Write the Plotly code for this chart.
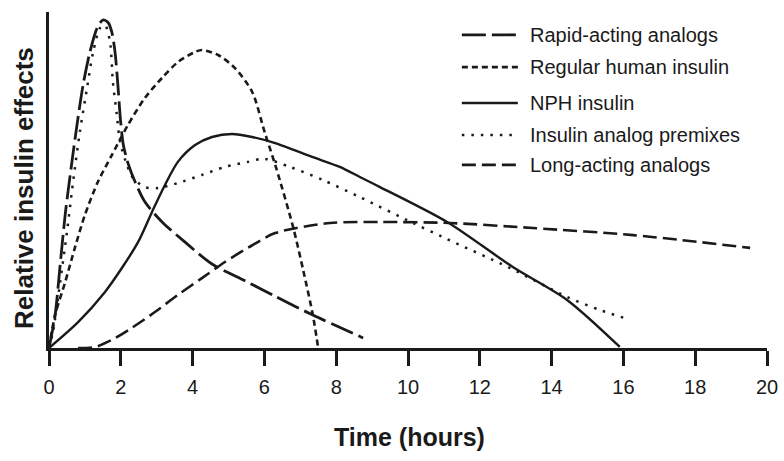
import plotly.graph_objects as go

# ---------------- data ----------------
series_names = [
    "Rapid-acting analogs",
    "Regular human insulin",
    "NPH insulin",
    "Insulin analog premixes",
    "Long-acting analogs",
]

rapid_t = [0, 0.17, 0.31, 0.45, 0.59, 0.78, 0.95, 1.14, 1.34, 1.50, 1.65, 1.75, 1.84, 1.92,
           1.99, 2.07, 2.20, 2.40, 2.67, 3.15, 3.79, 4.54, 5.46, 6.30, 7.35, 8.75]
rapid_y = [0, 9.8, 24.7, 39.6, 51.5, 66.4, 78.3, 88.1, 95.2, 97.6, 96.8, 94.0, 88.0, 78.0,
           68.0, 60.5, 55.0, 49.4, 43.5, 37.5, 31.5, 25.0, 20.0, 15.4, 9.8, 3.0]

regular_t = [0, 0.17, 0.45, 0.72, 1.00, 1.36, 1.75, 2.20, 2.67, 3.15, 3.59, 4.07, 4.26, 4.71,
             5.18, 5.66, 6.00, 6.33, 6.80, 7.08, 7.35, 7.49]
regular_y = [0, 9.8, 19.6, 29.8, 39.6, 49.4, 57.4, 66.4, 74.4, 80.4, 85.1, 88.1, 88.7, 87.2,
             83.3, 76.2, 64.5, 53.5, 36.0, 23.2, 9.8, 0.6]

nph_t = [0, 0.81, 1.56, 2.03, 2.48, 2.87, 3.23, 3.59, 4.07, 4.54, 5.10, 5.66, 6.30, 7.35,
         8.10, 8.66, 9.22, 11.09, 12.92, 14.43, 15.9]
nph_y = [0, 7.7, 16.7, 23.8, 31.5, 40.5, 48.5, 55.4, 60.4, 62.8, 63.7, 62.8, 61.0, 56.8,
         53.9, 50.9, 47.9, 37.5, 24.1, 14.3, 0.3]

premix_t = [0, 0.11, 0.31, 0.50, 0.67, 0.86, 1.06, 1.23, 1.42, 1.56, 1.70, 1.78, 1.89, 1.98,
            2.17, 2.34, 2.67, 3.04, 3.59, 4.26, 4.90, 5.54, 6.00, 6.71, 7.63, 8.66, 10.14,
            10.97, 12.84, 14.43, 15.35, 16.04]
premix_y = [0, 4.8, 19.6, 34.5, 49.4, 64.3, 77.4, 88.1, 95.2, 96.1, 91.1, 79.2, 69.3, 61.3,
            54.5, 50.6, 47.9, 47.6, 49.1, 51.5, 53.9, 55.4, 56.3, 53.9, 50.0, 44.9, 37.2,
            33.0, 23.8, 15.2, 11.3, 8.9]

long_t = [0.81, 1.28, 1.75, 2.31, 2.95, 3.59, 4.26, 4.90, 5.54, 6.30, 7.83, 9.22, 11.17,
          13.48, 16.27, 19.53]
long_y = [0, 0.3, 2.4, 6.0, 10.7, 15.8, 20.8, 25.6, 29.8, 34.2, 37.2, 37.5, 37.2,
          35.7, 33.6, 29.8]

x_ticks = [0, 2, 4, 6, 8, 10, 12, 14, 16, 18, 20]
x_title = "Time (hours)"
y_title = "Relative insulin effects"

# ---------------- styles ----------------
FONT = "Liberation Sans, Arial, Helvetica, sans-serif"
INK = "#1a1a1a"
styles = [
    dict(dash="24px,6px", width=2.8),
    dict(dash="6px,4px", width=2.6),
    dict(dash="solid", width=2.4),
    dict(dash="2.5px,7px", width=2.5),
    dict(dash="14px,6px", width=2.6),
]
data = [(rapid_t, rapid_y), (regular_t, regular_y), (nph_t, nph_y),
        (premix_t, premix_y), (long_t, long_y)]

fig = go.Figure()
for name, (tx, ty), st in zip(series_names, data, styles):
    fig.add_trace(go.Scatter(
        x=tx, y=ty, mode="lines", name=name,
        line=dict(color=INK, width=st["width"], dash=st["dash"],
                  shape="spline", smoothing=0.8),
        showlegend=False, hoverinfo="skip",
    ))

# manual legend (sample lines + labels), in paper coordinates
legend_rows = [0.932, 0.836, 0.729, 0.634, 0.545]
for name, st, yy in zip(series_names, styles, legend_rows):
    fig.add_shape(type="line", xref="paper", yref="paper",
                  x0=0.575, x1=0.653, y0=yy, y1=yy,
                  line=dict(color=INK, width=st["width"], dash=st["dash"]))
    fig.add_annotation(text=name, xref="paper", yref="paper", x=0.667, y=yy,
                       xanchor="left", yanchor="middle", showarrow=False,
                       font=dict(family=FONT, size=20, color=INK))

# axis titles
fig.add_annotation(text="<b>%s</b>" % x_title, xref="paper", yref="paper",
                   x=0.502, y=-0.265, xanchor="center", yanchor="middle",
                   showarrow=False, font=dict(family=FONT, size=25, color=INK))
fig.add_annotation(text="<b>%s</b>" % y_title, xref="paper", yref="paper",
                   x=-0.035, y=0.476, xanchor="center", yanchor="middle",
                   textangle=-90, showarrow=False,
                   font=dict(family=FONT, size=26, color=INK))

fig.update_xaxes(range=[0, 20], tickvals=x_ticks, ticktext=[str(v) for v in x_ticks],
                 showline=True, linecolor=INK, linewidth=3,
                 ticks="outside", ticklen=15, tickwidth=2.5, tickcolor=INK,
                 ticklabelstandoff=4, automargin=False,
                 showgrid=False, zeroline=False,
                 tickfont=dict(family=FONT, size=20, color=INK))
fig.update_yaxes(range=[0, 100], showline=True, linecolor=INK, linewidth=2.6,
                 showticklabels=False, ticks="", showgrid=False, zeroline=False,
                 automargin=False)

fig.update_layout(
    width=784, height=461,
    margin=dict(l=49, r=17, t=12, b=113),
    paper_bgcolor="white", plot_bgcolor="white",
    font=dict(family=FONT, color=INK),
)

fig.write_html("out.html", config={"displayModeBar": False},
               post_script="document.body.style.margin='0';document.body.style.padding='0';")
